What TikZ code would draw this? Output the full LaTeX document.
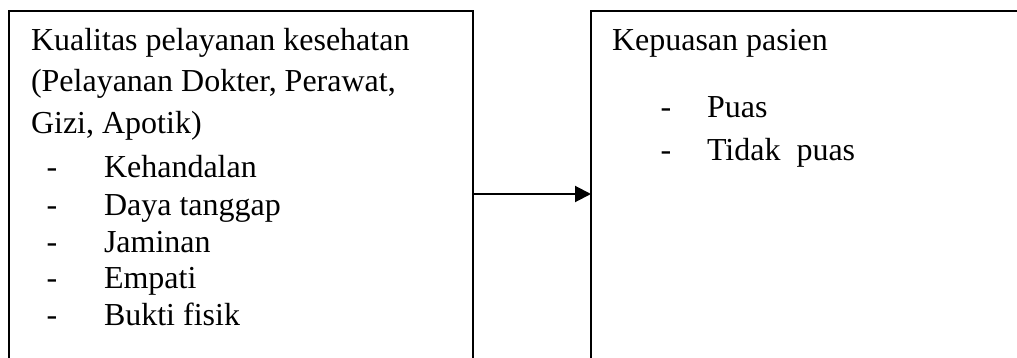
\documentclass[tikz,border=0pt]{standalone}
\usepackage{fontspec}
\setmainfont{Liberation Serif}
\usetikzlibrary{arrows.meta}
\tikzset{
  frame/.style={draw=black, line width=2pt, inner sep=0pt, outer sep=0pt,
    anchor=north west, minimum height=366.6pt},
  txt/.style={anchor=base west, inner sep=0pt, outer sep=0pt,
    font=\fontsize{32}{38}\selectfont},
  link/.style={line width=2pt, -{Triangle[length=16pt,width=16pt]}}
}
\begin{document}
\begin{tikzpicture}[x=1pt,y=-1pt]
\useasboundingbox (0,0) rectangle (1017,358);
\clip (0,0) rectangle (1017,358);
% two frames, running past the lower and right edges
\node[frame, minimum width=464pt] (lbox) at (9,10.7) {};
\node[frame, minimum width=460pt] (rbox) at (591,10.7) {};
% left frame text
\node[txt] (l1) at (31,50.7) {Kualitas pelayanan kesehatan};
\node[txt] (l2) at (31,91.7) {(Pelayanan Dokter, Perawat,};
\node[txt] (l3) at (31,134) {Gizi, Apotik)};
\node[txt] (d1) at (46.5,178) {-};
\node[txt] (i1) at (104,178) {Kehandalan};
\node[txt] (d2) at (46.5,215) {-};
\node[txt] (i2) at (104,215) {Daya tanggap};
\node[txt] (d3) at (46.5,252) {-};
\node[txt] (i3) at (104,252) {Jaminan};
\node[txt] (d4) at (46.5,288.5) {-};
\node[txt] (i4) at (104,288.5) {Empati};
\node[txt] (d5) at (46.5,325) {-};
\node[txt] (i5) at (104,325) {Bukti fisik};
% right frame text
\node[txt] (r1) at (612,50.5) {Kepuasan pasien};
\node[txt] (rd1) at (660.5,118) {-};
\node[txt] (ri1) at (707,118) {Puas};
\node[txt] (rd2) at (660.5,160.5) {-};
\node[txt] (ri2) at (707,160.5) {Tidak\ \ puas};
% connector
\draw[link] (lbox.east) -- (rbox.west);
\end{tikzpicture}
\end{document}
